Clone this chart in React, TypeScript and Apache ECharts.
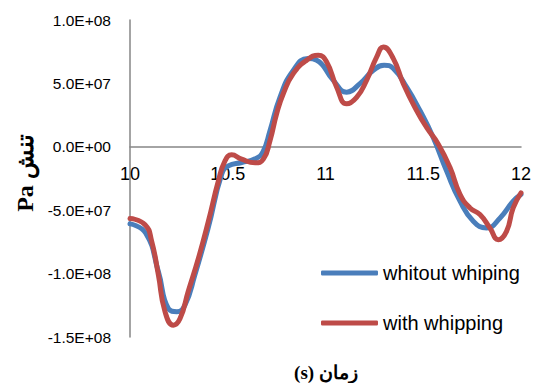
import React, { useEffect, useRef } from "react";
import * as echarts from "echarts";

// Stress without whipping: time (s) and stress (Pa)
const timeWithout = [
  10.0, 10.08, 10.145, 10.196, 10.24, 10.281, 10.332, 10.4, 10.469, 10.503,
  10.571, 10.64, 10.68, 10.716, 10.767, 10.835, 10.91, 10.955, 11.04, 11.108,
  11.176, 11.245, 11.3, 11.347, 11.415, 11.483, 11.551, 11.619, 11.688, 11.756,
  11.824, 11.893, 11.96, 12.0,
];
const stressWithout = [
  -6.08e7, -6.8e7, -9.84e7, -1.275e8, -1.3e8, -1.249e8, -1.01e8, -6.4e7, -2.17e7, -1.51e7,
  -1.24e7, -9.5e6, -4.0e6, 1.27e7, 3.9e7, 6.03e7, 6.96e7, 6.83e7, 5.24e7, 4.31e7,
  4.98e7, 6.03e7, 6.43e7, 6.17e7, 4.7e7, 2.86e7, 7.4e6, -1.9e7, -4.29e7, -5.87e7,
  -6.4e7, -5.61e7, -4.29e7, -3.75e7,
];

// Stress with whipping: time (s) and stress (Pa)
const timeWith = [
  10.0, 10.077, 10.111, 10.145, 10.179, 10.222, 10.256, 10.298, 10.35, 10.401,
  10.452, 10.486, 10.52, 10.571, 10.64, 10.682, 10.716, 10.75, 10.784, 10.835,
  10.904, 10.963, 11.006, 11.057, 11.108, 11.159, 11.21, 11.262, 11.296, 11.347,
  11.398, 11.466, 11.517, 11.577, 11.637, 11.688, 11.739, 11.79, 11.841, 11.884,
  11.926, 11.96, 12.0,
];
const stressWith = [
  -5.66e7, -6.14e7, -7.46e7, -1.01e8, -1.3e8, -1.407e8, -1.355e8, -1.14e8, -8.79e7, -5.87e7,
  -2.7e7, -1.11e7, -6.3e6, -9.8e6, -1.26e7, -9.8e6, 4.8e6, 2.6e7, 4.18e7, 5.77e7,
  6.83e7, 7.22e7, 6.69e7, 4.7e7, 3.39e7, 3.9e7, 5.24e7, 7.09e7, 7.88e7, 6.95e7,
  4.98e7, 2.86e7, 1.53e7, 2.1e6, -1.64e7, -3.75e7, -4.82e7, -5.34e7, -6.4e7, -7.33e7,
  -6.67e7, -4.82e7, -3.63e7,
];

const seriesNames = ["whitout whiping", "with whipping"];
const seriesColors = ["#4a7ebb", "#be4b48"];

const yAxisTitle = "Pa تنش";
const xAxisTitle = "(s) زمان";

const Y_MIN = -1.5e8;
const Y_MAX = 1e8;
const GRID = { left: 130, right: 15, top: 20, bottom: 46 };
const CHART_W = 536;
const CHART_H = 383;

// Excel-style scientific notation: 1.0E+08, -5.0E+07, 0.0E+00
function sci(v: number): string {
  if (v === 0) return "0.0E+00";
  const sign = v < 0 ? "-" : "";
  const a = Math.abs(v);
  let exp = Math.floor(Math.log10(a));
  let mant = a / Math.pow(10, exp);
  if (Number(mant.toFixed(1)) >= 10) {
    exp += 1;
    mant = a / Math.pow(10, exp);
  }
  const e = (exp < 0 ? "-" : "+") + String(Math.abs(exp)).padStart(2, "0");
  return `${sign}${mant.toFixed(1)}E${e}`;
}

const pairs = (ts: number[], ys: number[]) => ts.map((t, i) => [t, ys[i]]);

export default function App() {
  const ref = useRef<HTMLDivElement>(null);

  useEffect(() => {
    if (!ref.current) return;
    const chart = echarts.init(ref.current, undefined, { renderer: "svg" });
    const axisColor = "#868686";
    // the time axis (with its labels) sits on the zero line of the stress axis
    const plotH = CHART_H - GRID.top - GRID.bottom;
    const zeroFromBottom = (plotH * (0 - Y_MIN)) / (Y_MAX - Y_MIN);
    const labelFont = "Liberation Sans, Arial, sans-serif";
    const titleFont = "Liberation Serif, Times New Roman, DejaVu Serif, serif";

    chart.setOption({
      animation: false,
      backgroundColor: "#ffffff",
      grid: { ...GRID, containLabel: false },
      xAxis: {
        type: "value",
        min: 10,
        max: 12,
        interval: 0.5,
        position: "bottom",
        offset: -zeroFromBottom,
        axisLine: { onZero: false, lineStyle: { color: axisColor, width: 1.5 } },
        axisTick: { show: false },
        splitLine: { show: false },
        axisLabel: {
          margin: 18,
          fontSize: 18,
          color: "#000000",
          fontFamily: labelFont,
          showMaxLabel: true,
          showMinLabel: true,
        },
      },
      yAxis: {
        type: "value",
        min: Y_MIN,
        max: Y_MAX,
        interval: 5e7,
        axisLine: { show: true, onZero: false, lineStyle: { color: axisColor, width: 1.5 } },
        axisTick: { show: false },
        splitLine: { show: false },
        axisLabel: {
          margin: 19,
          fontSize: 15.5,
          color: "#000000",
          fontFamily: labelFont,
          formatter: (v: number) => sci(v),
        },
      },
      legend: {
        orient: "vertical",
        left: 316,
        top: 258,
        itemWidth: 57,
        itemHeight: 5,
        itemGap: 30,
        icon: "roundRect",
        textStyle: {
          fontSize: 20,
          color: "#000000",
          fontFamily: labelFont,
        },
        data: seriesNames,
      },
      series: [
        {
          name: seriesNames[0],
          type: "line",
          data: pairs(timeWithout, stressWithout),
          smooth: 0.5,
          showSymbol: false,
          symbol: "none",
          lineStyle: { color: seriesColors[0], width: 5, cap: "round", join: "round" },
          itemStyle: { color: seriesColors[0] },
        },
        {
          name: seriesNames[1],
          type: "line",
          data: pairs(timeWith, stressWith),
          smooth: 0.5,
          showSymbol: false,
          symbol: "none",
          lineStyle: { color: seriesColors[1], width: 5, cap: "round", join: "round" },
          itemStyle: { color: seriesColors[1] },
        },
      ],
      graphic: [
        {
          type: "text",
          x: 25,
          y: 173,
          rotation: Math.PI / 2,
          style: {
            text: yAxisTitle,
            align: "center",
            verticalAlign: "middle",
            fontSize: 24,
            fontWeight: "bold",
            fontFamily: titleFont,
            fill: "#000000",
          },
        },
        {
          type: "text",
          x: 326,
          y: 372,
          style: {
            text: xAxisTitle,
            align: "center",
            verticalAlign: "middle",
            fontSize: 19,
            fontWeight: "bold",
            fontFamily: titleFont,
            fill: "#000000",
          },
        },
      ],
    });
    return () => chart.dispose();
  }, []);

  return (
    <div
      ref={ref}
      style={{ position: "fixed", left: 0, top: 0, width: CHART_W, height: CHART_H }}
    />
  );
}
